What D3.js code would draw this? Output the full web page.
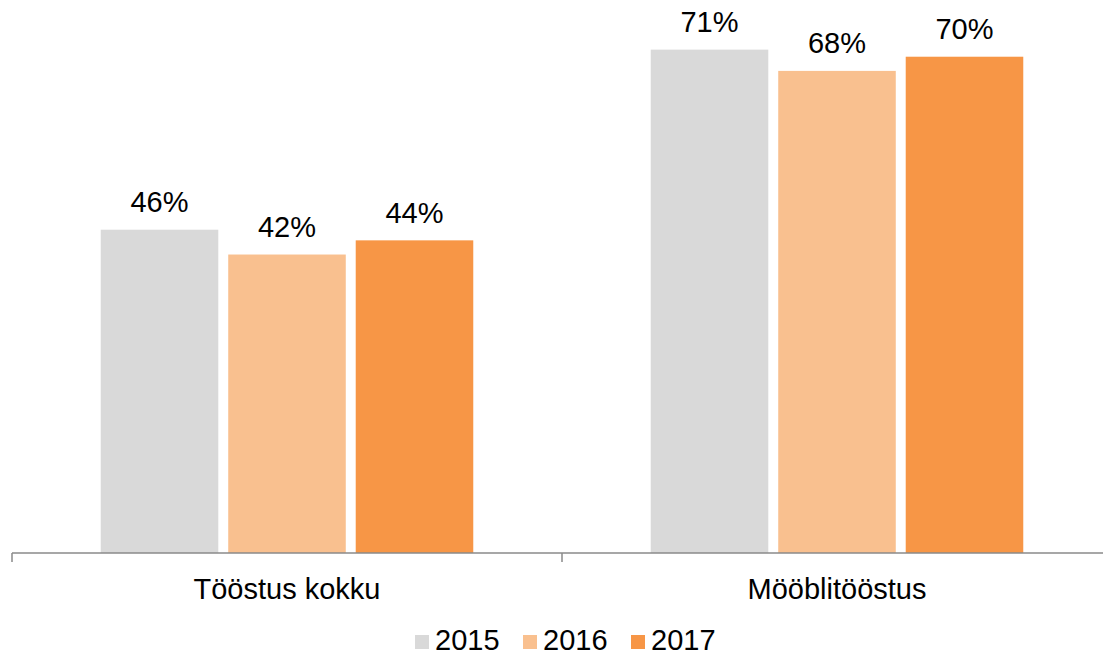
<!DOCTYPE html>
<html>
<head>
<meta charset="utf-8">
<script src="https://cdn.jsdelivr.net/npm/d3@7"></script>
<style>
  body { margin: 0; background: #fff; }
  svg { display: block; font-family: "Liberation Sans", Arial, sans-serif; }
</style>
</head>
<body>
<div id="chart"></div>
<script>
// Data
const categories = ["Tööstus kokku", "Mööblitööstus"];
const years = ["2015", "2016", "2017"];
const values2015 = [45.6, 71.0];
const values2016 = [42.1, 68.0];
const values2017 = [44.1, 70.0];
const seriesColors = ["#d9d9d9", "#f9c08f", "#f79646"];

const seriesValues = [values2015, values2016, values2017];
const rows = [];
categories.forEach((c, ci) => {
    years.forEach((y, yi) => rows.push({ category: c, year: y, value: seriesValues[yi][ci] }));
});

const width = 1103, height = 657;
const svg = d3.select("#chart").append("svg")
    .attr("width", width)
    .attr("height", height);

const baseline = 553;

const x0 = d3.scaleBand()
    .domain(categories)
    .range([12, 1112])
    .padding(0);

const x1 = d3.scaleBand()
    .domain(years)
    .range([0, x0.bandwidth()])
    .paddingInner(0.078)
    .paddingOuter(0.696);

const y = d3.scaleLinear()
    .domain([0, 78])
    .range([baseline, 0]);

const color = d3.scaleOrdinal().domain(years).range(seriesColors);

// Bars
svg.append("g")
    .selectAll("rect")
    .data(rows)
    .enter().append("rect")
    .attr("x", d => x0(d.category) + x1(d.year))
    .attr("y", d => y(d.value))
    .attr("width", x1.bandwidth())
    .attr("height", d => baseline - y(d.value))
    .attr("fill", d => color(d.year));

// Value labels
svg.append("g")
    .selectAll("text")
    .data(rows)
    .enter().append("text")
    .attr("x", d => x0(d.category) + x1(d.year) + x1.bandwidth() / 2)
    .attr("y", d => y(d.value) - 17.5)
    .attr("text-anchor", "middle")
    .attr("font-size", 29)
    .attr("fill", "#000")
    .text(d => Math.round(d.value) + "%");

// X axis
const xAxis = svg.append("g")
    .attr("transform", `translate(0,${baseline})`);

xAxis.append("line")
    .attr("x1", 12).attr("x2", 1112)
    .attr("y1", 0).attr("y2", 0)
    .attr("stroke", "#8a8a8a")
    .attr("stroke-width", 1.5);

const tickPos = categories.map(c => x0(c)).concat([x0.range()[1]]);
xAxis.selectAll(".tick")
    .data(tickPos)
    .enter().append("line")
    .attr("x1", d => d).attr("x2", d => d)
    .attr("y1", 0).attr("y2", 9)
    .attr("stroke", "#8a8a8a")
    .attr("stroke-width", 1.5);

xAxis.selectAll(".cat")
    .data(categories)
    .enter().append("text")
    .attr("x", d => x0(d) + x0.bandwidth() / 2)
    .attr("y", 46)
    .attr("text-anchor", "middle")
    .attr("font-size", 29)
    .attr("fill", "#000")
    .text(d => d);

// Legend
const legendX = [415, 523, 631];
const legend = svg.append("g");
const items = legend.selectAll("g")
    .data(years)
    .enter().append("g")
    .attr("transform", (d, i) => `translate(${legendX[i]},0)`);

items.append("rect")
    .attr("x", 0).attr("y", 635)
    .attr("width", 14).attr("height", 14)
    .attr("fill", d => color(d));

items.append("text")
    .attr("x", 20)
    .attr("y", 650)
    .attr("font-size", 29)
    .attr("fill", "#000")
    .text(d => d);
</script>
</body>
</html>
